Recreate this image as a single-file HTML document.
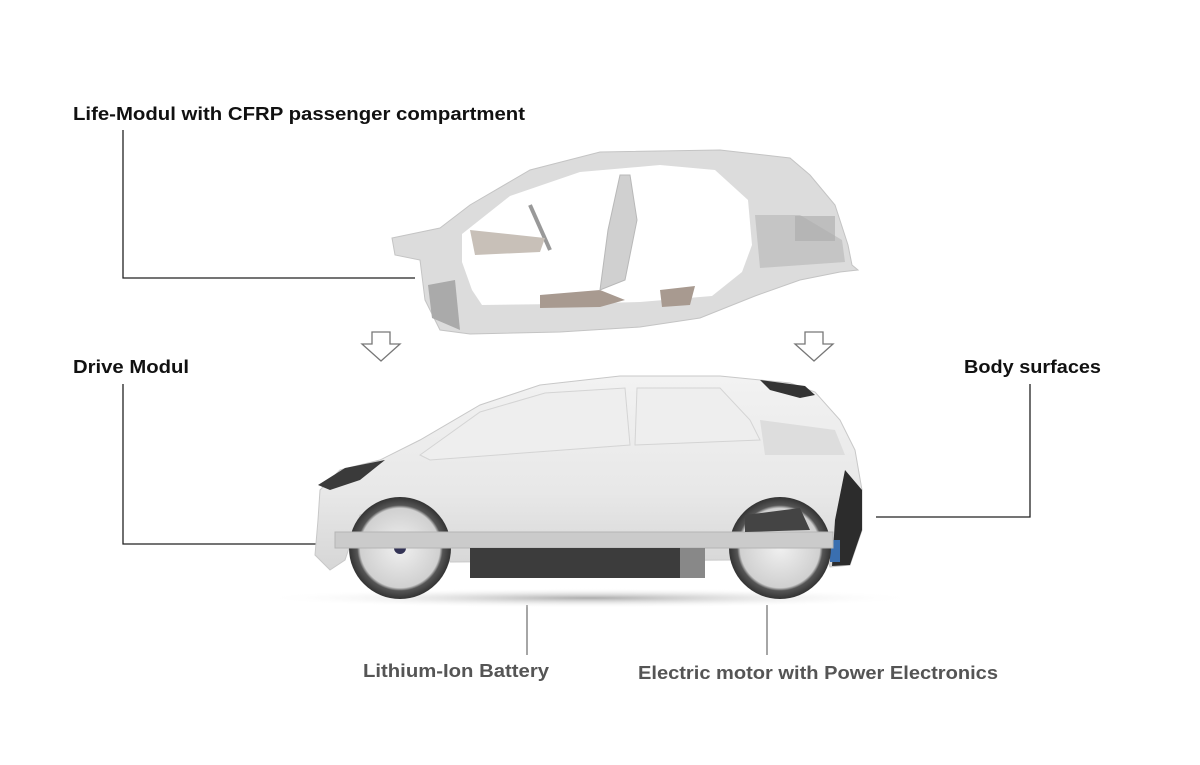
<!DOCTYPE html>
<html><head><meta charset="utf-8"><style>
html,body{margin:0;padding:0;background:#fff;}
svg{display:block;}
text{font-family:"Liberation Sans",Arial,sans-serif;font-weight:bold;}
</style></head><body>
<svg width="1200" height="765" viewBox="0 0 1200 765" xmlns="http://www.w3.org/2000/svg">
<defs>
<linearGradient id="body" x1="0" y1="0" x2="0" y2="1">
<stop offset="0" stop-color="#f2f2f2"/><stop offset="0.6" stop-color="#e8e8e8"/><stop offset="1" stop-color="#d6d6d6"/>
</linearGradient>
<radialGradient id="shadow" cx="0.5" cy="0.5" r="0.5">
<stop offset="0" stop-color="#888" stop-opacity="0.7"/><stop offset="1" stop-color="#fff" stop-opacity="0"/>
</radialGradient>
<radialGradient id="wheel" cx="0.5" cy="0.5" r="0.5">
<stop offset="0" stop-color="#f0f0f0"/><stop offset="0.78" stop-color="#d0d0d0"/><stop offset="0.84" stop-color="#555"/><stop offset="1" stop-color="#333"/>
</radialGradient>
</defs>

<text x="73" y="120" font-size="18" fill="#111" textLength="452" lengthAdjust="spacingAndGlyphs">Life-Modul with CFRP passenger compartment</text>
<text x="73" y="373" font-size="18" fill="#111" textLength="116" lengthAdjust="spacingAndGlyphs">Drive Modul</text>
<text x="964" y="373" font-size="18" fill="#111" textLength="137" lengthAdjust="spacingAndGlyphs">Body surfaces</text>
<text x="363" y="677" font-size="18" fill="#555" textLength="186" lengthAdjust="spacingAndGlyphs">Lithium-Ion Battery</text>
<text x="638" y="679" font-size="18" fill="#555" textLength="360" lengthAdjust="spacingAndGlyphs">Electric motor with Power Electronics</text>

<g stroke="#222" stroke-width="1.3" fill="none">
<polyline points="123,130 123,278 415,278"/>
<polyline points="123,384 123,544 318,544"/>
<polyline points="1030,384 1030,517 876,517"/>
</g>
<g stroke="#777" stroke-width="1.3">
<line x1="527" y1="605" x2="527" y2="655"/>
<line x1="767" y1="605" x2="767" y2="655"/>
</g>

<g fill="#fff" stroke="#777" stroke-width="1.3">
<polygon points="372,332 390,332 390,344 400,344 381,361 362,344 372,344"/>
<polygon points="805,332 823,332 823,344 833,344 814,361 795,344 805,344"/>
</g>

<!-- life module frame -->
<g>
<path d="M392,238 L440,228 L470,205 L530,170 L600,152 L720,150 L790,158 L810,175 L835,205 L848,245 L852,265 L858,270 L840,272 L800,280 L755,296 L700,318 L640,327 L560,332 L470,334 L440,330 L425,300 L420,260 L395,255 Z" fill="#dcdcdc" stroke="#c4c4c4"/>
<path d="M462,234 L510,196 L580,172 L660,165 L715,170 L748,200 L752,245 L742,272 L712,296 L640,302 L560,304 L482,305 L472,290 L462,262 Z" fill="#fff"/>
<path d="M428,285 L455,280 L460,330 L432,318 Z" fill="#aaa"/>
<path d="M540,295 L600,290 L625,300 L600,307 L540,308 Z" fill="#a89a90"/>
<path d="M660,290 L695,286 L690,305 L662,307 Z" fill="#a89a90"/>
<path d="M620,175 L630,175 L637,220 L625,280 L600,290 L608,230 Z" fill="#d0d0d0" stroke="#b8b8b8"/>
<line x1="530" y1="205" x2="550" y2="250" stroke="#999" stroke-width="4"/>
<path d="M470,230 L545,238 L540,252 L475,255 Z" fill="#c8c0b8"/>
<path d="M755,215 L800,215 L842,240 L845,262 L760,268 Z" fill="#bbb" opacity="0.7"/>
<rect x="795" y="216" width="40" height="25" fill="#aaa" opacity="0.6"/>
</g>

<ellipse cx="590" cy="598" rx="330" ry="10" fill="url(#shadow)"/>

<!-- car body -->
<path d="M318,520 L320,490 L340,470 L380,460 L420,440 L480,405 L540,385 L620,376 L720,376 L790,383 L815,392 L840,420 L855,450 L862,490 L862,530 L850,565 L830,567 L820,540 L780,510 L740,520 L730,560 L450,562 L440,530 L400,505 L360,515 L345,560 L330,570 L315,555 Z" fill="url(#body)" stroke="#c8c8c8"/>
<path d="M420,455 L480,412 L545,393 L625,388 L630,445 L430,460 Z" fill="#eeeeee" stroke="#d4d4d4"/>
<path d="M637,388 L720,388 L750,420 L760,440 L635,445 Z" fill="#eeeeee" stroke="#d4d4d4"/>
<path d="M760,420 L835,430 L845,455 L765,455 Z" fill="#ddd"/>
<path d="M760,380 L805,386 L815,395 L800,398 L770,390 Z" fill="#333"/>
<path d="M318,485 L345,468 L385,460 L360,480 L330,490 Z" fill="#3a3a3a"/>
<path d="M845,470 L862,490 L862,530 L850,565 L832,566 L835,520 Z" fill="#2c2c2c"/>
<rect x="830" y="540" width="10" height="22" fill="#3a6fb0"/>
<circle cx="400" cy="548" r="51" fill="url(#wheel)"/>
<circle cx="780" cy="548" r="51" fill="url(#wheel)"/>
<circle cx="400" cy="548" r="6" fill="#335"/>
<rect x="335" y="532" width="498" height="16" fill="#cbcbcb" stroke="#b5b5b5"/>
<rect x="470" y="548" width="210" height="30" fill="#3c3c3c"/>
<rect x="680" y="548" width="25" height="30" fill="#888"/>
<path d="M745,515 L800,508 L810,530 L745,532 Z" fill="#444"/>
</svg>
</body></html>
